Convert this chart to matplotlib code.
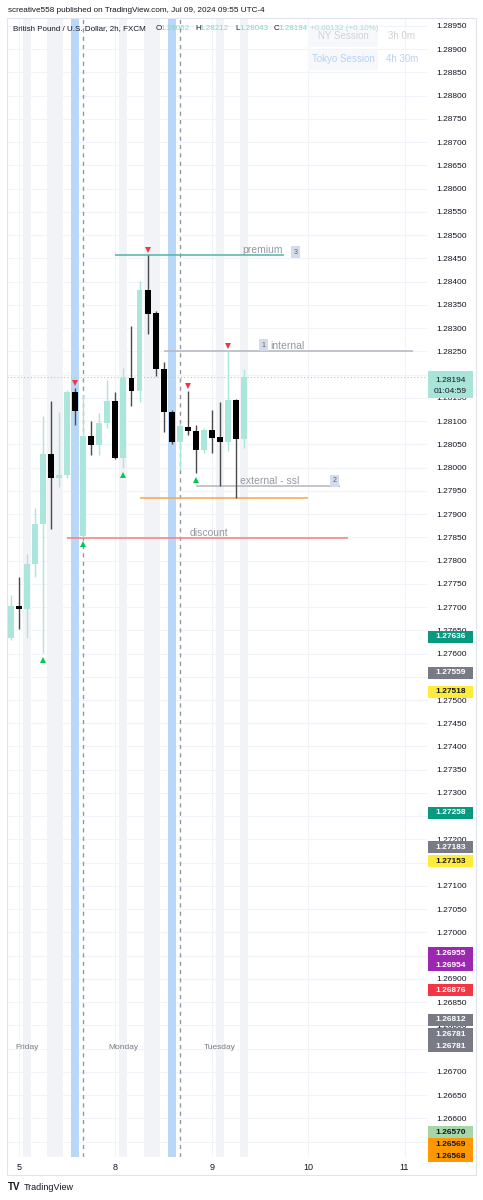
import matplotlib
matplotlib.use('Agg')
import matplotlib.pyplot as plt
import matplotlib.transforms as mtransforms
from matplotlib.patches import Rectangle
import numpy as np

plt.rcParams['font.family'] = ['Liberation Sans', 'DejaVu Sans']

# GBPUSD 2h candles, Jul 4 23:00 -> Jul 9 09:00 (UTC-4), weekend gap skipped
opens = [1.27633, 1.27702, 1.27696, 1.27793, 1.27879, 1.28029, 1.27978, 1.27984, 1.28163, 1.27853,
         1.28068, 1.28049, 1.28096, 1.28143, 1.28021, 1.28193, 1.28165, 1.28382, 1.28333, 1.28212,
         1.28120, 1.28055, 1.28087, 1.28079, 1.28038, 1.28081, 1.28066, 1.28055, 1.28145, 1.28062]
highs = [1.27726, 1.27765, 1.27814, 1.27913, 1.28111, 1.28143, 1.28120, 1.28167, 1.28171, 1.28156,
         1.28100, 1.28117, 1.28188, 1.28163, 1.28214, 1.28305, 1.28401, 1.28457, 1.28337, 1.28227,
         1.28124, 1.28095, 1.28165, 1.28092, 1.28085, 1.28124, 1.28141, 1.28251, 1.28148, 1.28212]
lows = [1.27629, 1.27653, 1.27633, 1.27765, 1.27601, 1.27868, 1.27958, 1.27978, 1.28092, 1.27850,
        1.28027, 1.28027, 1.28085, 1.28018, 1.27999, 1.28132, 1.28141, 1.28287, 1.28197, 1.28077,
        1.28051, 1.27995, 1.28070, 1.27988, 1.28032, 1.28032, 1.27960, 1.28036, 1.27935, 1.28043]
closes = [1.27702, 1.27696, 1.27793, 1.27879, 1.28029, 1.27978, 1.27984, 1.28163, 1.28122, 1.28068,
          1.28049, 1.28096, 1.28143, 1.28021, 1.28193, 1.28165, 1.28382, 1.28330, 1.28212, 1.28120,
          1.28055, 1.28089, 1.28079, 1.28038, 1.28081, 1.28064, 1.28055, 1.28145, 1.28061, 1.28194]

day_ticks = [1, 13, 25, 37, 49]
day_labels = ['5', '8', '9', '10', '11']
weekday_bars = [2, 14, 26]
weekday_names = ['Friday', 'Monday', 'Tuesday']
weekday_price = 1.26753

session_bars = [2, 5, 6, 14, 17, 18, 26, 29]
close_bars = [8, 20]
open_bars = [9, 21]
swing_high_bars = [8, 17, 22, 27]
swing_low_bars = [4, 9, 14, 23]

level_names = ['premium', 'internal', 'external - ssl', '', 'discount']
level_tags = ['3', '1', '2', '', '']
level_prices = [1.28457, 1.28251, 1.27960, 1.27935, 1.27848]
level_start = [13, 19, 23, 16, 7]
level_end = [34, 50, 41, 37, 42]

axis_prices = [1.27636, 1.27559, 1.27518, 1.27258, 1.27183, 1.27153, 1.26955, 1.26954,
               1.26876, 1.26812, 1.26781, 1.26781, 1.26570, 1.26569, 1.26568]
axis_kinds = ['green', 'gray', 'yellow', 'green', 'gray', 'yellow', 'purple', 'purple',
              'red', 'gray', 'gray', 'gray', 'lightgreen', 'orange', 'orange']

last_price = 1.28194
countdown = '01:04:59'

# ---- styles
BULL = '#ace5dc'
BEAR = '#000000'
BEAR_WICK = '#4a4a4a'
GRID = '#f0f3fa'
kind_colors = {'green': ('#089981', 'white'), 'gray': ('#787b86', 'white'),
               'yellow': ('#ffeb3b', '#131722'), 'purple': ('#9c27b0', 'white'),
               'red': ('#f23645', 'white'), 'lightgreen': ('#a5d6a7', '#131722'),
               'orange': ('#ff9800', '#131722')}
level_colors = ['#4db6a6', '#b2b5be', '#b2b5be', '#f7a54a', '#f77c80']

W, H = 483, 1200
fig = plt.figure(figsize=(W / 100, H / 100), dpi=100)
fig.patch.set_facecolor('white')
ax = fig.add_axes([7 / W, 1 - 1157 / H, (427 - 7) / W, (1157 - 18) / H])
ymin, ymax = 1.26517, 1.28967
ax.set_xlim(-0.5, 51.8)
ax.set_ylim(ymin, ymax)
for s in ax.spines.values():
    s.set_visible(False)

# grid
yticks = np.arange(1.2655, 1.28951, 0.0005)
ax.set_yticks(yticks)
ax.yaxis.set_major_formatter(matplotlib.ticker.FormatStrFormatter('%.5f'))
ax.yaxis.tick_right()
ax.tick_params(axis='y', length=0, pad=6.5, labelsize=6, labelcolor='#131722')
ax.set_xticks(day_ticks)
ax.set_xticklabels(day_labels)
ax.tick_params(axis='x', length=0, pad=4, labelsize=6.5, labelcolor='#131722')
ax.grid(True, color=GRID, linewidth=0.8)
ax.set_axisbelow(True)

# sessions
for b in session_bars:
    ax.axvspan(b - 0.5, b + 0.5, color='#f2f3f6', zorder=0.6, linewidth=0)
for b in close_bars:
    ax.axvspan(b - 0.5, b + 0.5, color='#b9d8f8', zorder=0.7, linewidth=0)
for b in open_bars:
    ax.axvline(b, color='#9598a1', linewidth=1, linestyle=(0, (3, 3)), zorder=0.8)

# last price dotted line
ax.axhline(last_price, color='#8fd8c8', linewidth=0.8, linestyle=(0, (1, 2)), zorder=0.9)

# candles
idx = np.arange(len(opens))
o = np.array(opens); c = np.array(closes); hi = np.array(highs); lo = np.array(lows)
up = c >= o
ax.vlines(idx[up], lo[up], hi[up], color=BULL, linewidth=1, zorder=2)
ax.vlines(idx[~up], lo[~up], hi[~up], color=BEAR_WICK, linewidth=1, zorder=2)
body_min = 0.00006
heights = np.maximum(np.abs(c - o), body_min)
ax.bar(idx[up], heights[up], bottom=np.minimum(o, c)[up], width=0.74, color=BULL, zorder=3, linewidth=0)
ax.bar(idx[~up], heights[~up], bottom=np.minimum(o, c)[~up], width=0.74, color=BEAR, zorder=3, linewidth=0)

# swing markers
up_off = mtransforms.ScaledTranslation(0, 5 / 100, fig.dpi_scale_trans)
dn_off = mtransforms.ScaledTranslation(0, -7 / 100, fig.dpi_scale_trans)
ax.plot(swing_high_bars, hi[swing_high_bars], 'v', color='#f23645', markersize=4.5,
        markeredgewidth=0, transform=ax.transData + up_off, zorder=4)
ax.plot(swing_low_bars, lo[swing_low_bars], '^', color='#00c853', markersize=4.5,
        markeredgewidth=0, transform=ax.transData + dn_off, zorder=4)

# structure levels
for p, a, b, col in zip(level_prices, level_start, level_end, level_colors):
    ax.hlines(p, a, b, color=col, linewidth=1.1, zorder=1.5)

lab = dict(fontsize=7.5, color='#9598a1')
tagbox = dict(boxstyle='square,pad=0.35', fc='#d3dcef', ec='none')
tag = dict(fontsize=5, color='#5d606b', bbox=tagbox, ha='center')
ax.text(31.3, level_prices[0], level_names[0], ha='center', va='bottom', **lab)
ax.text(35.4, level_prices[0], level_tags[0], va='center',
        transform=ax.transData + mtransforms.ScaledTranslation(0, 0.03, fig.dpi_scale_trans), **tag)
ax.text(32.3, level_prices[1], level_names[1], ha='left', va='bottom', **lab)
ax.text(31.4, level_prices[1], level_tags[1], va='bottom',
        transform=ax.transData + mtransforms.ScaledTranslation(0, 0.02, fig.dpi_scale_trans), **tag)
ax.text(28.5, level_prices[2], level_names[2], ha='left', va='bottom', **lab)
ax.text(40.3, level_prices[2], level_tags[2], va='bottom',
        transform=ax.transData + mtransforms.ScaledTranslation(0, 0.02, fig.dpi_scale_trans), **tag)
ax.text(22.2, level_prices[4], level_names[4], ha='left', va='bottom', **lab)

# weekday labels
for b, n in zip(weekday_bars, weekday_names):
    ax.text(b, weekday_price, n, ha='center', va='center', fontsize=6, color='#787b86')

# ---- price-axis labels (stacked so they don't overlap)
fig.canvas.draw()
ident = mtransforms.IdentityTransform()
box_h = 12
x0, x1 = 428, 473
prev = None
box_centers = []
for p, k in zip(axis_prices, axis_kinds):
    y = ax.transData.transform((0, p))[1]
    if prev is not None and prev - y < box_h:
        y = prev - box_h
    prev = y
    box_centers.append(y)
    fc, tc = kind_colors[k]
    fig.patches.append(Rectangle((x0, y - box_h / 2), x1 - x0, box_h, facecolor=fc,
                                 edgecolor='none', transform=ident, figure=fig, zorder=5))
    fig.text((x0 + x1) / 2, y, f'{p:.5f}', transform=ident, ha='center', va='center',
             fontsize=6, color=tc, fontweight='bold', zorder=6)

y_last = ax.transData.transform((0, last_price))[1]
fig.patches.append(Rectangle((x0, y_last - 21), x1 - x0, 27, facecolor='#a9e4d8', edgecolor='none',
                             transform=ident, figure=fig, zorder=5))
fig.text((x0 + x1) / 2, y_last - 3, f'{last_price:.5f}', transform=ident, ha='center', va='center',
         fontsize=6, color='#131722', zorder=6)
fig.text((x0 + x1) / 2, y_last - 14, countdown, transform=ident, ha='center', va='center',
         fontsize=6, color='#131722', zorder=6)
box_centers.append(y_last - 8)

# hide tick labels that sit completely under a price box
for t, val in zip(ax.yaxis.get_ticklabels(), yticks):
    ty = ax.transData.transform((0, val))[1]
    if any(abs(ty - bc) < 5 for bc in box_centers) or abs(ty - (y_last - 8)) < 12:
        t.set_visible(False)

# chart frame
fig.patches.append(Rectangle((7 / W, 1 - 1175 / H), 469 / W, 1157 / H, fill=False,
                             edgecolor='#e0e3eb', linewidth=0.8, transform=fig.transFigure, figure=fig))


def fx(x):
    return x / W


def fy(y):
    return 1 - y / H


fig.text(fx(8), fy(10), 'screative558 published on TradingView.com, Jul 09, 2024 09:55 UTC-4',
         fontsize=5.9, color='#131722', va='center')

# session table (drawn under the legend row)
fig.patches.append(Rectangle((fx(308), fy(47)), 70 / W, 20 / H, facecolor='#f7f8fb', edgecolor='none',
                             transform=fig.transFigure, figure=fig, zorder=4))
fig.patches.append(Rectangle((fx(308), fy(70)), 70 / W, 20 / H, facecolor='#f7f8fb', edgecolor='none',
                             transform=fig.transFigure, figure=fig, zorder=4))
fig.text(fx(343), fy(36), 'NY Session', fontsize=7, color='#d0d2d8', ha='center', va='center', zorder=5)
fig.text(fx(402), fy(36), '3h 0m', fontsize=7, color='#d0d2d8', ha='center', va='center', zorder=5)
fig.text(fx(343), fy(59), 'Tokyo Session', fontsize=7, color='#b3d3f5', ha='center', va='center', zorder=5)
fig.text(fx(402), fy(59), '4h 30m', fontsize=7, color='#b3d3f5', ha='center', va='center', zorder=5)

# legend row
fig.text(fx(13), fy(29), 'British Pound / U.S. Dollar, 2h, FXCM', fontsize=5.8, color='#131722',
         va='center', zorder=7)
ohlc = [('O', opens[-1], 156), ('H', highs[-1], 195), ('L', lows[-1], 235), ('C', closes[-1], 274)]
for letter, v, xp in ohlc:
    fig.text(fx(xp), fy(29), letter, fontsize=5.8, color='#131722', va='center', zorder=7)
    fig.text(fx(xp + 4.5), fy(29), f'{v:.5f}', fontsize=5.8, color='#7fd6c3', va='center', zorder=7)
change = 0.00132
change_pct = 0.10
fig.text(fx(310), fy(29), f'+{change:.5f} (+{change_pct:.2f}%)', fontsize=5.8, color='#a3e0d3',
         va='center', zorder=7)

# footer logo
fig.text(fx(8), fy(1187), 'TV', fontsize=7, fontweight='bold', color='#131722', va='center')
fig.text(fx(24), fy(1187), 'TradingView', fontsize=6.5, color='#131722', va='center')

fig.savefig('out.png', dpi=100, facecolor='white')
